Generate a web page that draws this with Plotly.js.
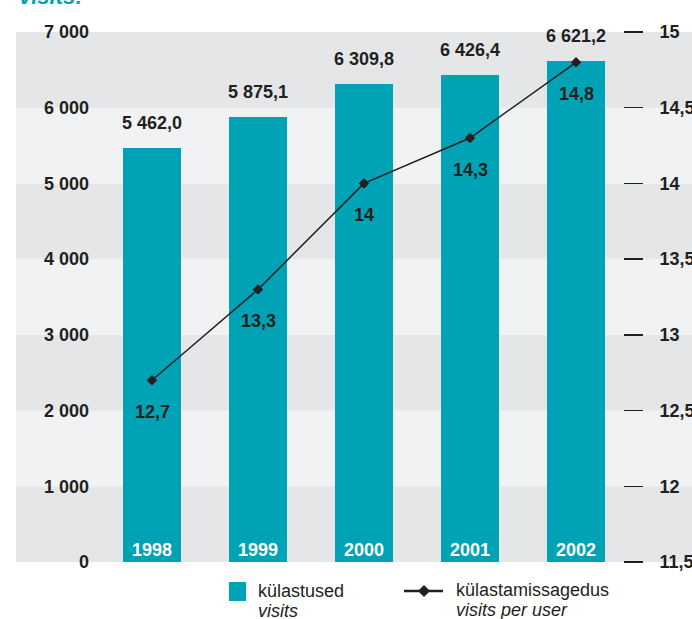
<!DOCTYPE html>
<html>
<head>
<meta charset="utf-8">
<script src="https://cdn.plot.ly/plotly-3.0.1.min.js"></script>
<style>html,body{margin:0;padding:0;background:#fff;}#chart{width:692px;height:619px;}</style>
</head>
<body>
<div id="chart"></div>
<script>
const years = ['1998', '1999', '2000', '2001', '2002'];
const visits = [5462.0, 5875.1, 6309.8, 6426.4, 6621.2];
const visitsPerUser = [12.7, 13.3, 14.0, 14.3, 14.8];
const leftTicks = [0, 1000, 2000, 3000, 4000, 5000, 6000, 7000];
const rightTicks = [11.5, 12, 12.5, 13, 13.5, 14, 14.5, 15];

const TEAL = '#00a3b5';
const DARK = '#231f20';
const BAND_DARK = '#e5e6e8';
const BAND_LIGHT = '#f1f2f4';
const FONT = 'Liberation Sans, Arial, Helvetica, sans-serif';

// page geometry
const W = 692, H = 619, ML = 16, MR = 0, MT = 32, MB = 57;
const PW = W - ML - MR, PH = H - MT - MB;
const px = x => (x - ML) / PW;
const py = y => (H - MB - y) / PH;

function fmtVal(v) {
  const parts = v.toFixed(1).split('.');
  return parts[0].replace(/\B(?=(\d{3})+(?!\d))/g, ' ') + ',' + parts[1];
}
const fmtDec = v => String(v).replace('.', ',');

const bars = {
  type: 'bar', x: years, y: visits, width: 0.55,
  marker: { color: TEAL, line: { width: 0 } },
  hoverinfo: 'skip', showlegend: false
};
const line = {
  type: 'scatter', mode: 'lines+markers', x: years, y: visitsPerUser, yaxis: 'y2',
  line: { color: DARK, width: 1.5 },
  marker: { symbol: 'diamond', size: 8, color: DARK },
  hoverinfo: 'skip', showlegend: false
};

const shapes = [];
for (let i = 0; i < leftTicks.length - 1; i++) {
  shapes.push({
    type: 'rect', xref: 'paper', yref: 'y', x0: 0, x1: 1,
    y0: leftTicks[i], y1: leftTicks[i + 1],
    fillcolor: (i % 2 === 0) ? BAND_DARK : BAND_LIGHT,
    line: { width: 0 }, layer: 'below'
  });
}
// legend: square
shapes.push({ type: 'rect', xref: 'paper', yref: 'paper',
  x0: px(229), x1: px(246), y0: py(601), y1: py(582),
  fillcolor: TEAL, line: { width: 0 } });
// legend: line
shapes.push({ type: 'line', xref: 'paper', yref: 'paper',
  x0: px(404), x1: px(443), y0: py(591), y1: py(591),
  line: { color: DARK, width: 2.5 } });
// legend: diamond
(function () {
  const cx = 424, cy = 591, r = 6;
  const pts = [[cx, cy - r], [cx + r, cy], [cx, cy + r], [cx - r, cy]]
    .map(p => px(p[0]) + ',' + py(p[1]));
  shapes.push({ type: 'path', xref: 'paper', yref: 'paper',
    path: 'M' + pts.join('L') + 'Z', fillcolor: DARK, line: { width: 0 } });
})();

const annotations = [];
years.forEach((yr, i) => {
  annotations.push({ x: i, y: visits[i], xref: 'x', yref: 'y', text: fmtVal(visits[i]),
    showarrow: false, yanchor: 'middle', yshift: 25,
    font: { family: FONT, size: 18, color: DARK, weight: 'bold' } });
  annotations.push({ x: i, y: 0, xref: 'x', yref: 'y', text: yr,
    showarrow: false, yanchor: 'middle', yshift: 12,
    font: { family: FONT, size: 18, color: '#ffffff', weight: 'bold' } });
  annotations.push({ x: i, y: visitsPerUser[i], xref: 'x', yref: 'y2', text: fmtDec(visitsPerUser[i]),
    showarrow: false, yanchor: 'middle', yshift: -32,
    font: { family: FONT, size: 18, color: DARK, weight: 'bold' } });
});
// title fragment at top
annotations.push({ xref: 'paper', yref: 'paper', x: px(17), y: py(-4), xanchor: 'left', yanchor: 'middle',
  text: '<b><i>visits:</i></b>', showarrow: false,
  font: { family: FONT, size: 22, color: TEAL } });
// legend texts
const legText = [
  ['külastused', 256, 591, false], ['visits', 256, 611, true],
  ['külastamissagedus', 454, 590, false], ['visits per user', 454, 610, true]
];
legText.forEach(t => annotations.push({ xref: 'paper', yref: 'paper', x: px(t[1]), y: py(t[2]),
  xanchor: 'left', yanchor: 'middle', showarrow: false,
  text: t[3] ? '<i>' + t[0] + '</i>' : t[0],
  font: { family: FONT, size: 18, color: DARK } }));

const layout = {
  width: W, height: H,
  margin: { l: ML, r: MR, t: MT, b: MB, pad: 0 },
  paper_bgcolor: '#ffffff', plot_bgcolor: '#ffffff',
  separators: ', ',
  showlegend: false,
  bargap: 0,
  xaxis: { type: 'category', range: [-1.283, 5.094], showticklabels: false,
    showgrid: false, zeroline: false, showline: false, ticks: '', fixedrange: true },
  yaxis: { range: [0, 7000], tickvals: leftTicks, tickformat: ',d',
    anchor: 'free', position: px(89), side: 'left',
    showgrid: false, zeroline: false, showline: false, ticks: '',
    tickfont: { family: FONT, size: 18, color: DARK, weight: 'bold' } },
  yaxis2: { range: [11.5, 15], tickvals: rightTicks, overlaying: 'y',
    anchor: 'free', position: px(623), side: 'right',
    showgrid: false, zeroline: false, showline: false,
    ticks: 'outside', ticklen: 19, tickwidth: 1.5, tickcolor: DARK,
    ticklabelstandoff: 13,
    tickfont: { family: FONT, size: 18, color: DARK, weight: 'bold' } },
  shapes: shapes,
  annotations: annotations
};

Plotly.newPlot('chart', [bars, line], layout, { staticPlot: true, displayModeBar: false });
</script>
</body>
</html>
